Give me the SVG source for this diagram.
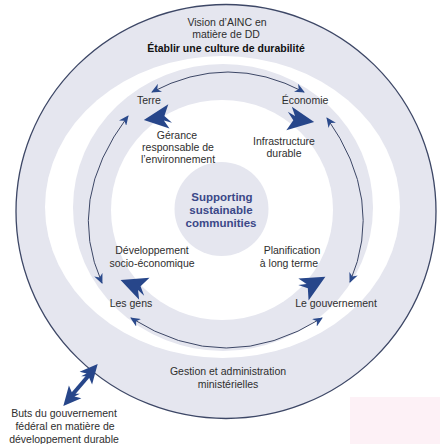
<svg xmlns="http://www.w3.org/2000/svg" xmlns:xlink="http://www.w3.org/1999/xlink" width="440" height="444" viewBox="0 0 440 444">
<style>
.t{font-family:"Liberation Sans",Arial,sans-serif;font-size:10.5px;fill:#2e2e2e;text-anchor:middle}
.b{font-weight:bold;fill:#111}
.c{font-family:"Liberation Sans",Arial,sans-serif;font-size:11.5px;font-weight:900;fill:#3b4888;text-anchor:middle}
.ring{fill:#e5e6ef}
.conn{fill:none;stroke:#3d4766;stroke-width:1}
.sw{fill:#27468a}
</style>
<defs>
<marker id="ah" markerUnits="userSpaceOnUse" markerWidth="11" markerHeight="9" refX="9" refY="4.5" orient="auto-start-reverse">
<path d="M0,0 L10,4.5 L0,9 L3,4.5 Z" fill="#2b4a8c"/>
</marker>
<path id="sw" d="M13,0 L-9,-11 L-5,-3 L-12,-6 L-6,1 L-11,11 Z"/>
</defs>
<rect width="440" height="444" fill="#ffffff"/>
<rect x="350" y="397" width="90" height="47" fill="#fdf1f6"/>
<g id="rings">
<ellipse cx="226" cy="211.5" rx="210" ry="207" class="ring" stroke="#3d4766" stroke-width="1.3"/>
<ellipse cx="222.5" cy="207" rx="177.5" ry="151" fill="#ffffff"/>
<ellipse cx="223" cy="207.5" rx="150" ry="143.5" class="ring"/>
<ellipse cx="222" cy="210" rx="111" ry="110" fill="#ffffff"/>
</g>
<g id="center">
<circle cx="221.5" cy="209" r="47" class="ring"/>
<text class="c" x="222" y="201">Supporting</text>
<text class="c" x="221" y="214">sustainable</text>
<text class="c" x="221" y="227">communities</text>
</g>
<g id="connectors">
<path class="conn" d="M152,92 Q228,52 304,92" marker-start="url(#ah)" marker-end="url(#ah)"/>
<path class="conn" d="M128,116 Q65,200 102,283" marker-start="url(#ah)" marker-end="url(#ah)"/>
<path class="conn" d="M327,118 Q385,200 350,282" marker-start="url(#ah)" marker-end="url(#ah)"/>
<path class="conn" d="M131,318 Q226,378 322,318" marker-start="url(#ah)" marker-end="url(#ah)"/>
<line x1="72" y1="395" x2="90" y2="374" stroke="#27468a" stroke-width="4"/>
<use href="#sw" class="sw" transform="translate(91,372) rotate(-50) scale(0.8)"/>
<use href="#sw" class="sw" transform="translate(70,398) rotate(130) scale(0.8)"/>
</g>
<g id="vision">
<text class="t" x="227" y="26">Vision d’AINC en</text>
<text class="t" x="226" y="38">matière de DD</text>
<text class="t b" x="226" y="52">Établir une culture de durabilité</text>
</g>
<g id="terre">
<text class="t" x="149" y="104">Terre</text>
<use href="#sw" class="sw" transform="translate(158,118) rotate(172) scale(1.1)"/>
</g>
<g id="economie">
<text class="t" x="305" y="104">Économie</text>
<use href="#sw" class="sw" transform="translate(300,120) rotate(8) scale(1.1)"/>
</g>
<g id="gerance">
<text class="t" x="177" y="139">Gérance</text>
<text class="t" x="178" y="151">responsable de</text>
<text class="t" x="178" y="163">l’environnement</text>
</g>
<g id="infrastructure">
<text class="t" x="284" y="145">Infrastructure</text>
<text class="t" x="284" y="157">durable</text>
</g>
<g id="developpement">
<text class="t" x="152" y="254">Développement</text>
<text class="t" x="152" y="267">socio-économique</text>
</g>
<g id="planification">
<text class="t" x="292" y="254">Planification</text>
<text class="t" x="289" y="267">à long terme</text>
</g>
<g id="gens">
<text class="t" x="131" y="307">Les gens</text>
<use href="#sw" class="sw" transform="translate(134,285) rotate(200) scale(1.1)"/>
</g>
<g id="gouvernement">
<text class="t" x="336" y="307">Le gouvernement</text>
<use href="#sw" class="sw" transform="translate(313,284) rotate(-30) scale(1.1)"/>
</g>
<g id="gestion">
<text class="t" x="228" y="375">Gestion et administration</text>
<text class="t" x="228" y="388">ministérielles</text>
</g>
<g id="buts">
<text class="t" x="64" y="417">Buts du gouvernement</text>
<text class="t" x="65" y="430">fédéral en matière de</text>
<text class="t" x="64" y="443">développement durable</text>
</g>
</svg>
